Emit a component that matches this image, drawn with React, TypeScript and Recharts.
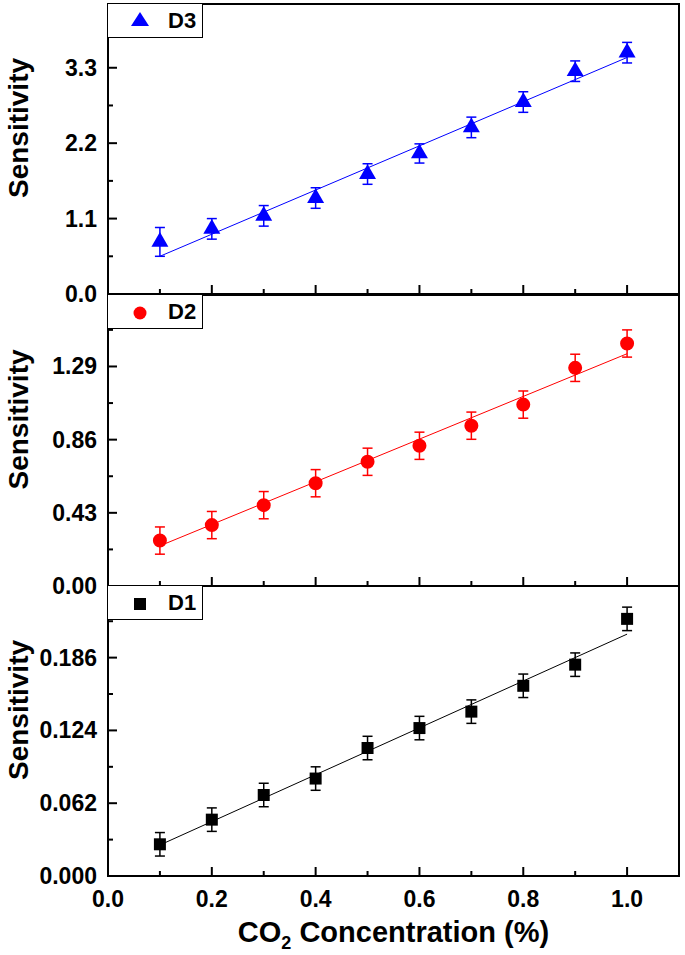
import {
  ComposedChart,
  Scatter,
  Line,
  ErrorBar,
  XAxis,
  YAxis,
  ZAxis,
  ReferenceArea,
  Legend,
} from "recharts";

const FONT = '"Liberation Sans", Arial, sans-serif';

// CO2 concentration (%)
const concentration = [0.1, 0.2, 0.3, 0.4, 0.5, 0.6, 0.7, 0.8, 0.9, 1.0];
const fitX = [0.1, 1.0];

const d3Sensitivity = [0.76, 0.95, 1.14, 1.4, 1.75, 2.05, 2.43, 2.8, 3.25, 3.52];
const d3Error = [0.21, 0.15, 0.15, 0.15, 0.15, 0.14, 0.15, 0.15, 0.15, 0.15];
const d3Fit = [0.55, 3.45];

const d2Sensitivity = [0.267, 0.358, 0.475, 0.604, 0.73, 0.824, 0.942, 1.066, 1.282, 1.425];
const d2Error = [0.08, 0.08, 0.08, 0.08, 0.08, 0.08, 0.08, 0.08, 0.08, 0.08];
const d2Fit = [0.236, 1.365];

const d1Sensitivity = [0.027, 0.048, 0.069, 0.083, 0.109, 0.126, 0.14, 0.162, 0.18, 0.219];
const d1Error = [0.01, 0.01, 0.01, 0.01, 0.01, 0.01, 0.01, 0.01, 0.01, 0.01];
const d1Fit = [0.0264, 0.206];

const xTicks = [0, 0.1, 0.2, 0.3, 0.4, 0.5, 0.6, 0.7, 0.8, 0.9, 1.0];
const d3Ticks = [0, 0.55, 1.1, 1.65, 2.2, 2.75, 3.3, 3.85];
const d2Ticks = [0, 0.215, 0.43, 0.645, 0.86, 1.075, 1.29, 1.505];
const d1Ticks = [0, 0.031, 0.062, 0.093, 0.124, 0.155, 0.186, 0.217];

const toPoints = (ys: number[], errs: number[]) =>
  concentration.map((x, i) => ({ x, y: ys[i], err: errs[i] }));
const toFit = (ys: number[]) => fitX.map((x, i) => ({ x, y: ys[i] }));

function XTick(props: any) {
  const { x, y, payload, showLabel } = props;
  const v = payload.value;
  const major = Math.round(v * 10) % 2 === 0;
  return (
    <g>
      <line x1={x} x2={x} y1={y} y2={y - (major ? 9 : 5)} stroke="#000" strokeWidth={2} />
      {showLabel && major && (
        <text x={x} y={y + 31} textAnchor="middle" fontSize={23} fontWeight="bold" fontFamily={FONT} fill="#000">
          {v.toFixed(1)}
        </text>
      )}
    </g>
  );
}

function YTick(props: any) {
  const { x, y, payload, index, digits } = props;
  const major = index % 2 === 0;
  return (
    <g>
      <line x1={x} x2={x + (major ? 9 : 5)} y1={y} y2={y} stroke="#000" strokeWidth={2} />
      {major && (
        <text x={x - 11} y={y + 8} textAnchor="end" fontSize={23} fontWeight="bold" fontFamily={FONT} fill="#000">
          {payload.value.toFixed(digits)}
        </text>
      )}
    </g>
  );
}

function YTitle(props: any) {
  const vb = props.viewBox;
  const cx = 28;
  const cy = vb.y + vb.height / 2 - 21;
  return (
    <text x={cx} y={cy} transform={`rotate(-90 ${cx} ${cy})`} textAnchor="middle" fontSize={28} fontWeight="bold" fontFamily={FONT} fill="#000">
      Sensitivity
    </text>
  );
}

function XTitle(props: any) {
  const vb = props.viewBox;
  return (
    <text x={vb.x + vb.width / 2} y={vb.y + 66} textAnchor="middle" fontSize={29} fontWeight="bold" fontFamily={FONT} fill="#000">
      CO
      <tspan fontSize={18} dy={7}>2</tspan>
      <tspan dy={-7}> Concentration (%)</tspan>
    </text>
  );
}

function LegendMarker({ shape, color }: { shape: string; color: string }) {
  if (shape === "triangle") return <polygon points="9,1 18,15 0,15" fill={color} />;
  if (shape === "circle") return <circle cx={9} cy={9} r={6.5} fill={color} />;
  return <rect x={3} y={3} width={12} height={12} fill={color} />;
}

function LegendBox({ name, shape, color }: { name: string; shape: string; color: string }) {
  return (
    <div style={{ position: "relative", width: 95, height: 34, boxSizing: "border-box", borderRight: "1px solid #000", borderBottom: "1px solid #000", background: "#fff" }}>
      <svg width={18} height={18} style={{ position: "absolute", left: 23, top: shape === "triangle" ? 7 : 9 }}>
        <LegendMarker shape={shape} color={color} />
      </svg>
      <span style={{ position: "absolute", left: 60, top: 5, fontSize: 22, fontWeight: "bold", fontFamily: FONT, lineHeight: "24px" }}>
        {name}
      </span>
    </div>
  );
}

interface PanelProps {
  top: number;
  height: number;
  marginTop: number;
  marginBottom: number;
  xHeight: number;
  showX: boolean;
  points: { x: number; y: number; err: number }[];
  fit: { x: number; y: number }[];
  yTicks: number[];
  yMax: number;
  digits: number;
  color: string;
  shape: "triangle" | "circle" | "square";
  size: number;
  name: string;
}

function Panel(p: PanelProps) {
  return (
    <div style={{ position: "absolute", left: 0, top: p.top }}>
      <ComposedChart width={685} height={p.height} margin={{ top: p.marginTop, right: 6, bottom: p.marginBottom, left: 0 }}>
        <XAxis
          dataKey="x"
          type="number"
          domain={[0, 1.1]}
          ticks={xTicks}
          interval={0}
          axisLine={false}
          tickLine={false}
          tickSize={0}
          tickMargin={0}
          height={p.xHeight}
          tick={<XTick showLabel={p.showX} />}
          label={p.showX ? <XTitle /> : undefined}
        />
        <YAxis
          type="number"
          domain={[0, p.yMax]}
          ticks={p.yTicks}
          interval={0}
          axisLine={false}
          tickLine={false}
          tickSize={0}
          tickMargin={0}
          width={108}
          tick={<YTick digits={p.digits} />}
          label={<YTitle />}
        />
        <ZAxis range={[p.size, p.size]} />
        <ReferenceArea x1={0} x2={1.1} y1={0} y2={p.yMax} fill="none" stroke="#000" strokeWidth={2} />
        <Line data={p.fit} dataKey="y" stroke={p.color} strokeWidth={1} dot={false} isAnimationActive={false} legendType="none" />
        <Scatter data={p.points} dataKey="y" fill={p.color} shape={p.shape} isAnimationActive={false}>
          <ErrorBar dataKey="err" direction="y" width={5} stroke={p.color} strokeWidth={1.5} />
        </Scatter>
        <Legend
          layout="horizontal"
          verticalAlign="middle"
          align="center"
          wrapperStyle={{ top: p.marginTop, left: 108, width: 95, height: 34 }}
          content={() => <LegendBox name={p.name} shape={p.shape} color={p.color} />}
        />
      </ComposedChart>
    </div>
  );
}

export default function App() {
  return (
    <div style={{ position: "absolute", left: 0, top: 0, width: 685, height: 955, background: "#fff" }}>
      <Panel top={0} height={310} marginTop={4} marginBottom={15} xHeight={1} showX={false}
        points={toPoints(d3Sensitivity, d3Error)} fit={toFit(d3Fit)} yTicks={d3Ticks} yMax={4.23} digits={1}
        color="#0000ff" shape="triangle" size={125} name="D3" />
      <Panel top={285} height={316} marginTop={10} marginBottom={14} xHeight={1} showX={false}
        points={toPoints(d2Sensitivity, d2Error)} fit={toFit(d2Fit)} yTicks={d2Ticks} yMax={1.71} digits={2}
        color="#ff0000" shape="circle" size={154} name="D2" />
      <Panel top={576} height={379} marginTop={10} marginBottom={9} xHeight={70} showX={true}
        points={toPoints(d1Sensitivity, d1Error)} fit={toFit(d1Fit)} yTicks={d1Ticks} yMax={0.247} digits={3}
        color="#000000" shape="square" size={144} name="D1" />
    </div>
  );
}
